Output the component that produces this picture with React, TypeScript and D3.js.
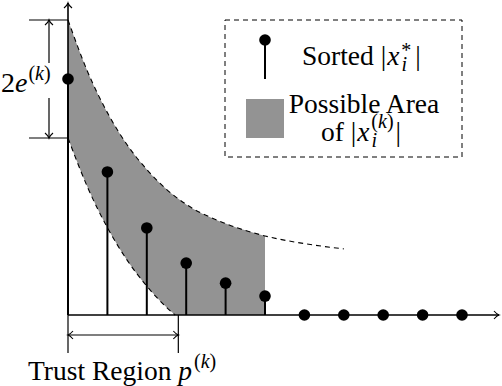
import React from 'react';
import * as d3 from 'd3';

// positions along the index axis (0..10) and the sorted magnitudes
const stemIndex = [0, 1, 2, 3, 4, 5, 6, 7, 8, 9, 10];
const sortedValues = [8.0, 4.85, 2.95, 1.76, 1.08, 0.64, 0, 0, 0, 0, 0];

// envelope of the possible area
const upperX = [0, 0.5, 1, 1.5, 2, 2.5, 3, 4, 5, 6, 7];
const upperY = [10, 8.24, 6.86, 5.77, 4.93, 4.26, 3.75, 3.1, 2.68, 2.42, 2.24];
const lowerX = [0, 0.5, 1, 1.5, 2, 2.5, 2.72];
const lowerY = [6.0, 4.32, 2.96, 1.86, 0.98, 0.26, 0];
const areaEnd = 5;
const trustEnd = 2.8;

const W = 502;
const H = 386;

const x = d3.scaleLinear().domain([0, 10]).range([68, 462]);
const y = d3.scaleLinear().domain([0, 10]).range([315, 20]);

const serif = '"Liberation Serif", "Times New Roman", serif';

function arrowHead(tx: number, ty: number, dir: 'right' | 'left' | 'up' | 'down') {
  const l = 5, w = 4;
  const rot = { right: 0, left: 180, up: -90, down: 90 }[dir];
  return (
    <path
      d={`M${-l},${-w} Q${-2},${-0.6} 0,0 Q${-2},${0.6} ${-l},${w}`}
      transform={`translate(${tx},${ty}) rotate(${rot})`}
      fill="none"
      stroke="#000"
      strokeWidth={1.1}
    />
  );
}

function App() {
  const upperPts: [number, number][] = upperX.map((v, i) => [v, upperY[i]]);
  const lowerPts: [number, number][] = lowerX.map((v, i) => [v, lowerY[i]]);

  const line = d3.line<[number, number]>()
    .x(d => x(d[0]))
    .y(d => y(d[1]))
    .curve(d3.curveMonotoneX);

  const upperIn = upperPts.filter(d => d[0] <= areaEnd);
  const lowerRev = lowerPts.slice().reverse();
  const areaPath =
    (line(upperIn) as string) +
    `L${x(areaEnd)},${y(0)}L${x(lowerRev[0][0])},${y(0)}` +
    (line(lowerRev) as string).replace(/^M/, 'L') +
    'Z';

  const axisY = y(0);
  const top = y(10);
  const low0 = y(lowerY[0]);

  return (
    <svg width={W} height={H} style={{ position: 'absolute', left: 0, top: 0, background: '#fff' }}
      fontFamily={serif}>
      {/* shaded possible area */}
      <path d={areaPath} fill="#939393" stroke="none" />
      <path d={line(upperPts) as string} fill="none" stroke="#000" strokeWidth={1.1} strokeDasharray="5,4" />
      <path d={line(lowerPts) as string} fill="none" stroke="#000" strokeWidth={1.1} strokeDasharray="5,4" />

      {/* axes */}
      <line x1={x(0)} y1={axisY} x2={499} y2={axisY} stroke="#000" strokeWidth={1.6} />
      {arrowHead(499, axisY, 'right')}
      <line x1={x(0)} y1={axisY} x2={x(0)} y2={3} stroke="#000" strokeWidth={1.6} />
      {arrowHead(x(0), 3, 'up')}

      {/* stems */}
      {stemIndex.map((xi, i) => (
        <g key={i}>
          <line x1={x(xi)} x2={x(xi)} y1={axisY} y2={y(sortedValues[i])} stroke="#000" strokeWidth={2} />
          <circle cx={x(xi)} cy={y(sortedValues[i])} r={5.8} fill="#000" />
        </g>
      ))}

      {/* 2e^(k) dimension */}
      <line x1={29} x2={x(0)} y1={top} y2={top} stroke="#000" strokeWidth={1.2} />
      <line x1={29} x2={x(0)} y1={low0} y2={low0} stroke="#000" strokeWidth={1.2} />
      <line x1={49} x2={49} y1={top} y2={63} stroke="#000" strokeWidth={1.2} />
      <line x1={49} x2={49} y1={98} y2={low0} stroke="#000" strokeWidth={1.2} />
      {arrowHead(49, top, 'up')}
      {arrowHead(49, low0, 'down')}
      <text x={1} y={92} fontSize={28}>
        2<tspan fontStyle="italic">e</tspan>
        <tspan fontSize={20} dx={1} dy={-12}>(</tspan>
        <tspan fontSize={20} fontStyle="italic">k</tspan>
        <tspan fontSize={20}>)</tspan>
      </text>

      {/* trust region dimension */}
      <line x1={x(0)} x2={x(0)} y1={axisY} y2={353} stroke="#000" strokeWidth={1.2} />
      <line x1={x(trustEnd)} x2={x(trustEnd)} y1={axisY} y2={353} stroke="#000" strokeWidth={1.2} />
      <line x1={x(0)} x2={x(trustEnd)} y1={335} y2={335} stroke="#000" strokeWidth={1.2} />
      {arrowHead(x(0), 335, 'left')}
      {arrowHead(x(trustEnd), 335, 'right')}
      <text x={28} y={380} fontSize={27.5}>
        Trust Region <tspan fontStyle="italic">p</tspan>
        <tspan fontSize={20} dx={2} dy={-12}>(</tspan>
        <tspan fontSize={20} fontStyle="italic">k</tspan>
        <tspan fontSize={20}>)</tspan>
      </text>

      {/* legend */}
      <rect x={225} y={20} width={237} height={137} fill="#fff" stroke="#000" strokeWidth={1} strokeDasharray="5,4" />
      <line x1={265} x2={265} y1={40} y2={79} stroke="#000" strokeWidth={2} />
      <circle cx={265} cy={40} r={5.8} fill="#000" />
      <text x={302} y={65} fontSize={27.5}>
        Sorted |<tspan fontStyle="italic" dx={1}>x</tspan>
        <tspan fontSize={20} fontStyle="italic" dx={2} dy={6}>i</tspan>
        <tspan fontSize={20} dx={-5.6} dy={-14}>*</tspan>
        <tspan dx={4} dy={8}>|</tspan>
      </text>
      <rect x={246} y={99} width={38} height={39} fill="#939393" />
      <text x={364} y={113} fontSize={27.5} textAnchor="middle">Possible Area</text>
      <text x={361} y={141} fontSize={27.5} textAnchor="middle">
        of |<tspan fontStyle="italic" dx={1}>x</tspan>
        <tspan fontSize={20} fontStyle="italic" dx={2} dy={6}>i</tspan>
        <tspan fontSize={20} dx={-5.6} dy={-19}>(</tspan>
        <tspan fontSize={20} fontStyle="italic">k</tspan>
        <tspan fontSize={20}>)</tspan>
        <tspan dx={2} dy={13}>|</tspan>
      </text>
    </svg>
  );
}

export default App;
